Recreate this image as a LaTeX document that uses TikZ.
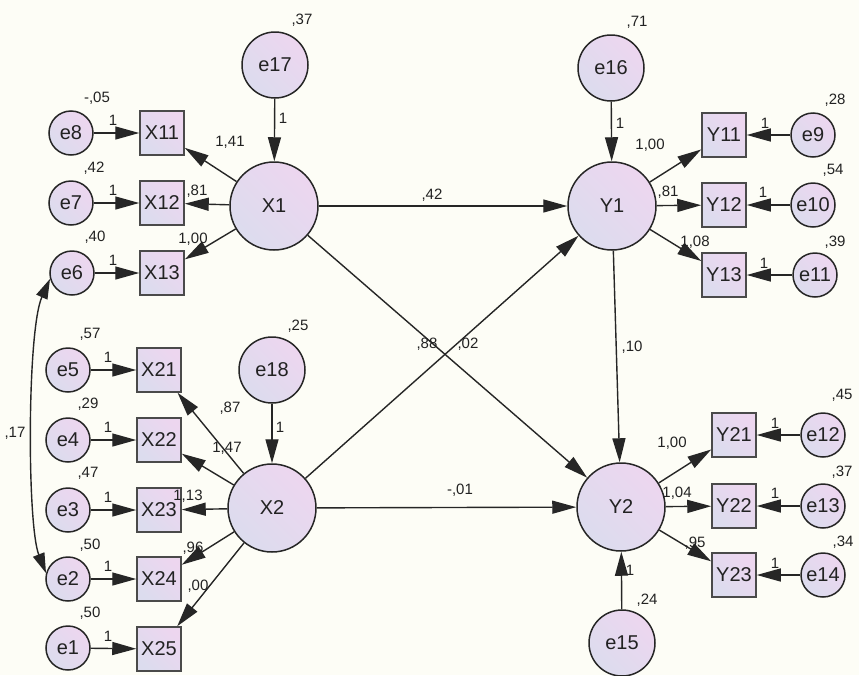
\documentclass[tikz,border=0pt]{standalone}
\usepackage{fontspec}
\setmainfont{Liberation Sans}
\usetikzlibrary{arrows.meta}
\definecolor{ink}{HTML}{222222}
\definecolor{rim}{HTML}{262626}
\definecolor{boxrim}{HTML}{4A4A4A}
\definecolor{paper}{HTML}{FDFDF6}
\definecolor{lavA}{HTML}{DCDCEE}
\definecolor{lavB}{HTML}{EDD6EF}
\tikzset{
  shade lav/.style={left color=lavA, right color=lavB, shading angle=135},
  latent/.style={circle, draw=rim, line width=1.5pt, shade lav, minimum size=88pt,
    inner sep=0pt, font=\fontsize{20}{24}\selectfont, text=ink},
  errbig/.style={latent, minimum size=66pt},
  errsmall/.style={latent, minimum size=44pt},
  obs/.style={rectangle, draw=boxrim, line width=1.5pt, shade lav, minimum size=44pt,
    inner sep=0pt, font=\fontsize{20}{24}\selectfont, text=ink},
  path/.style={draw=rim, line width=1.4pt, -{Triangle[length=24pt,width=13pt]}},
  covar/.style={draw=rim, line width=1.4pt,
    {Triangle[length=20pt,width=12pt]}-{Triangle[length=20pt,width=12pt]}},
  est/.style={inner sep=0pt, font=\fontsize{15}{17}\selectfont, text=ink}
}
\begin{document}
\begin{tikzpicture}[x=1pt,y=-1pt]
\fill[paper] (0,0) rectangle (859,675);
\useasboundingbox (0,0) rectangle (859,675);

% latent variables and their disturbances
\node[latent] (X1) at (274,206) {X1};
\node[latent] (X2) at (272,508) {X2};
\node[latent] (Y1) at (612,206) {Y1};
\node[latent] (Y2) at (621,507) {Y2};
\node[errbig] (e17) at (275,65) {e17};
\node[errbig] (e18) at (272,370) {e18};
\node[errbig] (e16) at (611,68) {e16};
\node[errbig] (e15) at (622,643) {e15};

% indicators of X1 and X2
\node[obs] (X11) at (162,133) {X11};
\node[obs] (X12) at (162,203) {X12};
\node[obs] (X13) at (162,273) {X13};
\node[obs] (X21) at (159,370) {X21};
\node[obs] (X22) at (159,440) {X22};
\node[obs] (X23) at (159,510) {X23};
\node[obs] (X24) at (159,579) {X24};
\node[obs] (X25) at (159,649) {X25};
\node[errsmall] (e8) at (71,133) {e8};
\node[errsmall] (e7) at (71,203) {e7};
\node[errsmall] (e6) at (72,273) {e6};
\node[errsmall] (e5) at (68,370) {e5};
\node[errsmall] (e4) at (68,440) {e4};
\node[errsmall] (e3) at (68,510) {e3};
\node[errsmall] (e2) at (68,579) {e2};
\node[errsmall] (e1) at (68,648) {e1};

% indicators of Y1 and Y2
\node[obs] (Y11) at (724,135) {Y11};
\node[obs] (Y12) at (724,205) {Y12};
\node[obs] (Y13) at (724,275) {Y13};
\node[obs] (Y21) at (734,435) {Y21};
\node[obs] (Y22) at (734,506) {Y22};
\node[obs] (Y23) at (734,575) {Y23};
\node[errsmall] (e9) at (813,135) {e9};
\node[errsmall] (e10) at (813,205) {e10};
\node[errsmall] (e11) at (815,275) {e11};
\node[errsmall] (e12) at (823,435) {e12};
\node[errsmall] (e13) at (823,506) {e13};
\node[errsmall] (e14) at (823,575) {e14};

% measurement paths
\foreach \l/\m in {X1/X11, X1/X12, X1/X13, X2/X21, X2/X22, X2/X23, X2/X24, X2/X25,
                   Y1/Y11, Y1/Y12, Y1/Y13, Y2/Y21, Y2/Y22, Y2/Y23}
  \draw[path] (\l) -- (\m);
\foreach \e/\m in {e8/X11, e7/X12, e6/X13, e5/X21, e4/X22, e3/X23, e2/X24, e1/X25,
                   e9/Y11, e10/Y12, e11/Y13, e12/Y21, e13/Y22, e14/Y23,
                   e17/X1, e18/X2, e16/Y1, e15/Y2}
  \draw[path] (\e) -- (\m);

% structural paths
\draw[path] (X1) -- (Y1);
\draw[path] (X1) -- (Y2);
\draw[path] (X2) -- (Y1);
\draw[path] (X2) -- (Y2);
\draw[path] (Y1) -- (Y2);

% covariance between e6 and e2
\draw[covar] (e6.195) .. controls (27,330) and (27,525) .. (e2.165);

% variances
\node[est] (v17) at (302,20) {,37};
\node[est] (v8) at (97,98) {-,05};
\node[est] (v7) at (94,168) {,42};
\node[est] (v6) at (95,237) {,40};
\node[est] (v5) at (90,334) {,57};
\node[est] (v4) at (88,404) {,29};
\node[est] (v3) at (88,473) {,47};
\node[est] (v2) at (90,545) {,50};
\node[est] (v1) at (90,613) {,50};
\node[est] (v18) at (298,326) {,25};
\node[est] (v16) at (637,22) {,71};
\node[est] (v9) at (835,100) {,28};
\node[est] (v10) at (833,170) {,54};
\node[est] (v11) at (835,242) {,39};
\node[est] (v12) at (842,395) {,45};
\node[est] (v13) at (842,472) {,37};
\node[est] (v14) at (843,542) {,34};
\node[est] (v15) at (647,600) {,24};
\node[est] (c62) at (15,433) {,17};

% fixed weights
\node[est] (w8) at (113,120) {1};
\node[est] (w7) at (113,190) {1};
\node[est] (w6) at (113,260) {1};
\node[est] (w5) at (108,357) {1};
\node[est] (w4) at (108,427) {1};
\node[est] (w3) at (108,497) {1};
\node[est] (w2) at (108,566) {1};
\node[est] (w1) at (108,636) {1};
\node[est] (w9) at (765,123) {1};
\node[est] (w10) at (763,192) {1};
\node[est] (w11) at (764,263) {1};
\node[est] (w12) at (775,423) {1};
\node[est] (w13) at (775,493) {1};
\node[est] (w14) at (775,563) {1};
\node[est] (w17) at (283,118) {1};
\node[est] (w18) at (280,427) {1};
\node[est] (w16) at (620,123) {1};
\node[est] (w15) at (630,570) {1};

% loadings
\node[est] (lx11) at (230,142) {1,41};
\node[est] (lx12) at (197,191) {,81};
\node[est] (lx13) at (193,239) {1,00};
\node[est] (lx21) at (230,408) {,87};
\node[est] (lx22) at (227,448) {1,47};
\node[est] (lx23) at (188,496) {1,13};
\node[est] (lx24) at (193,548) {,96};
\node[est] (lx25) at (198,586) {,00};
\node[est] (ly11) at (650,145) {1,00};
\node[est] (ly12) at (668,192) {,81};
\node[est] (ly13) at (695,242) {1,08};
\node[est] (ly21) at (672,443) {1,00};
\node[est] (ly22) at (677,493) {1,04};
\node[est] (ly23) at (695,543) {,95};

% regression weights
\node[est] (b11) at (432,195) {,42};
\node[est] (b12) at (427,344) {,88};
\node[est] (b21) at (468,344) {,02};
\node[est] (b22) at (460,490) {-,01};
\node[est] (byy) at (632,347) {,10};
\end{tikzpicture}
\end{document}
